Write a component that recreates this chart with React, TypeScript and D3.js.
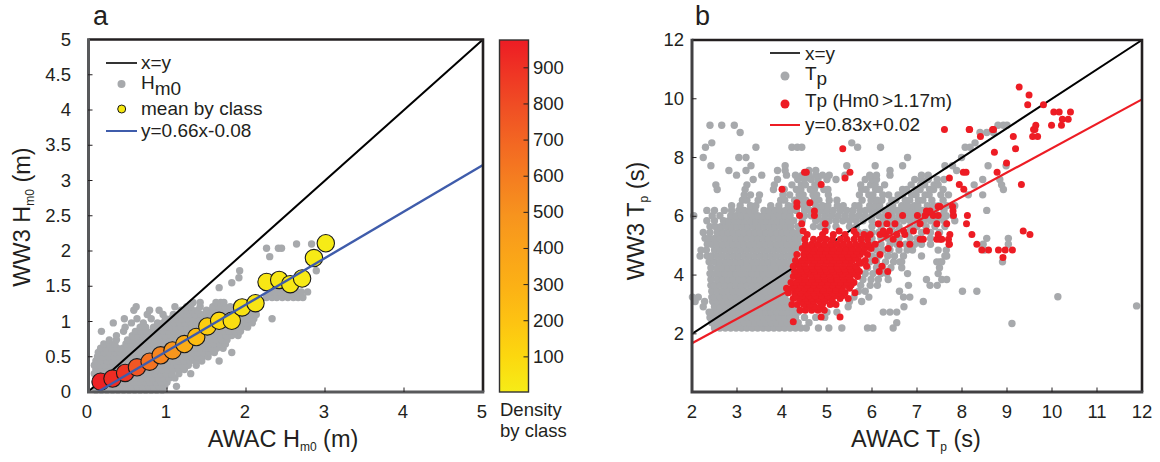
import React from "react";
import * as d3 from "d3";

const FONT = "'Liberation Sans', Arial, sans-serif";
const INK = "#231f20";
const GRAY = "#a7a9ac";
const RED = "#ed1c24";
const BLUE = "#3f5cab";

const ticksA = [0, 1, 2, 3, 4, 5];
const ticksAY = [0, 0.5, 1, 1.5, 2, 2.5, 3, 3.5, 4, 4.5, 5];
const ticksBX = [2, 3, 4, 5, 6, 7, 8, 9, 10, 11, 12];
const ticksBY = [2, 4, 6, 8, 10, 12];
const ticksDensity = [100, 200, 300, 400, 500, 600, 700, 800, 900];

const meanX = [0.16, 0.31, 0.47, 0.62, 0.78, 0.92, 1.07, 1.22, 1.37, 1.51, 1.66, 1.82, 1.95, 2.12, 2.26, 2.42, 2.56, 2.71, 2.86, 3.01];
const meanY = [0.146, 0.19, 0.27, 0.35, 0.43, 0.52, 0.59, 0.68, 0.78, 0.93, 1.01, 1.01, 1.2, 1.26, 1.56, 1.59, 1.53, 1.61, 1.9, 2.11];
const meanDensity = [960, 920, 880, 760, 640, 560, 480, 330, 230, 150, 100, 70, 50, 40, 30, 25, 20, 15, 12, 10];

const densityStops = [3, 100, 250, 500, 750, 977];
const densityColors = ["#f6ec17", "#fcd80f", "#fdb813", "#f7931e", "#f15a24", "#ed1c24"];

// y value, then the x values seen on that row
const grayRowsA: [number, number[]][] = [
  [0.03, [0.1, 0.17, 0.24, 0.31, 0.38, 0.45, 0.52, 0.59, 0.66, 0.73, 0.8, 0.87, 0.94]],
  [0.08, [0.13, 0.2, 0.27, 0.34, 0.41, 0.48, 0.55, 0.62, 0.69, 0.76, 0.83, 0.9, 0.97, 1.12]],
  [0.14, [0.09, 0.16, 0.23, 0.3, 0.37, 0.44, 0.51, 0.58, 0.65, 0.72, 0.79, 0.86, 0.93, 1.0]],
  [0.2, [0.12, 0.19, 0.26, 0.33, 0.4, 0.47, 0.54, 0.61, 0.68, 0.75, 0.82, 0.89, 0.96, 1.03, 1.1]],
  [0.26, [0.08, 0.15, 0.22, 0.29, 0.36, 0.43, 0.5, 0.57, 0.64, 0.71, 0.78, 0.85, 0.92, 0.99, 1.06, 1.15, 1.3]],
  [0.32, [0.1, 0.17, 0.24, 0.31, 0.38, 0.45, 0.52, 0.59, 0.66, 0.73, 0.8, 0.87, 0.94, 1.01, 1.08, 1.15, 1.22]],
  [0.38, [0.08, 0.15, 0.22, 0.29, 0.36, 0.43, 0.5, 0.57, 0.64, 0.71, 0.78, 0.85, 0.92, 0.99, 1.06, 1.13, 1.2, 1.27, 1.37]],
  [0.44, [0.1, 0.17, 0.24, 0.31, 0.38, 0.45, 0.52, 0.59, 0.66, 0.73, 0.8, 0.87, 0.94, 1.01, 1.08, 1.15, 1.22, 1.29, 1.36, 1.44, 1.66]],
  [0.5, [0.12, 0.19, 0.26, 0.33, 0.4, 0.47, 0.54, 0.61, 0.68, 0.75, 0.82, 0.89, 0.96, 1.03, 1.1, 1.17, 1.24, 1.31, 1.38, 1.45, 1.52]],
  [0.56, [0.13, 0.2, 0.27, 0.34, 0.41, 0.48, 0.55, 0.62, 0.69, 0.76, 0.83, 0.9, 0.97, 1.04, 1.11, 1.18, 1.25, 1.32, 1.39, 1.46, 1.53, 1.6, 1.82]],
  [0.62, [0.16, 0.23, 0.3, 0.37, 0.44, 0.51, 0.58, 0.65, 0.72, 0.79, 0.86, 0.93, 1.0, 1.07, 1.14, 1.21, 1.28, 1.35, 1.42, 1.49, 1.56, 1.63, 1.71]],
  [0.68, [0.2, 0.27, 0.34, 0.48, 0.55, 0.62, 0.69, 0.76, 0.83, 0.9, 0.97, 1.04, 1.11, 1.18, 1.25, 1.32, 1.39, 1.46, 1.53, 1.6, 1.67, 1.74]],
  [0.74, [0.27, 0.36, 0.5, 0.57, 0.64, 0.71, 0.78, 0.85, 0.92, 0.99, 1.06, 1.13, 1.2, 1.27, 1.34, 1.41, 1.48, 1.55, 1.62, 1.69, 1.76]],
  [0.8, [0.36, 0.56, 0.63, 0.7, 0.77, 0.84, 0.91, 0.98, 1.05, 1.12, 1.19, 1.26, 1.33, 1.4, 1.47, 1.54, 1.61, 1.68, 1.75, 1.82, 1.9]],
  [0.86, [0.17, 0.45, 0.6, 0.67, 0.74, 0.81, 0.88, 0.95, 1.02, 1.09, 1.16, 1.23, 1.3, 1.37, 1.44, 1.51, 1.58, 1.65, 1.72, 1.79, 1.86, 1.93]],
  [0.92, [0.47, 0.66, 0.73, 0.83, 0.9, 0.97, 1.04, 1.11, 1.18, 1.25, 1.32, 1.39, 1.46, 1.53, 1.6, 1.67, 1.74, 1.81, 1.88, 1.95, 2.02]],
  [0.98, [0.32, 0.55, 0.7, 0.88, 0.95, 1.02, 1.09, 1.16, 1.23, 1.3, 1.37, 1.44, 1.51, 1.58, 1.65, 1.72, 1.79, 1.86, 1.93, 2.0, 2.08]],
  [1.04, [0.46, 0.62, 0.8, 0.98, 1.05, 1.12, 1.19, 1.26, 1.33, 1.4, 1.47, 1.54, 1.61, 1.68, 1.75, 1.82, 1.89, 1.96, 2.03, 2.1, 2.33]],
  [1.1, [0.75, 0.95, 1.08, 1.15, 1.22, 1.29, 1.36, 1.43, 1.5, 1.57, 1.64, 1.71, 1.78, 1.85, 1.92, 1.99, 2.06, 2.13]],
  [1.16, [0.58, 0.78, 0.9, 1.18, 1.25, 1.32, 1.39, 1.5, 1.57, 1.64, 1.71, 1.78, 1.85, 1.92, 1.99, 2.06]],
  [1.21, [0.61, 1.1, 1.25, 1.3, 1.42, 1.58, 1.66, 1.73, 1.8, 1.95]],
  [1.27, [1.33, 1.42, 1.62, 1.68, 1.72, 1.96]],
  [1.34, [2.26, 2.33, 2.39, 2.46, 2.53, 2.6, 2.66, 2.72]],
  [1.42, [2.3, 2.37, 2.44, 2.51, 2.58, 2.65, 2.7, 2.78]],
  [1.48, [1.66, 2.24, 2.34, 2.42, 2.5, 2.58]],
  [1.55, [1.82, 2.3, 2.72]],
  [1.62, [1.91, 2.25]],
  [1.72, [1.92, 2.89]],
  [1.92, [2.3]],
  [2.04, [2.26, 2.41, 2.45]],
  [2.1, [2.64, 2.83]],
];

const grayRowsB: [number, number[]][] = [
  [2.2, [2.5, 2.62, 2.74, 2.86, 2.98, 3.1, 3.22, 3.34, 3.46, 3.58, 3.7, 3.82, 3.94, 4.06, 4.18, 4.3, 4.42, 4.54, 4.81, 5.04, 5.33, 5.9, 6.02, 6.47]],
  [2.38, [2.44, 2.56, 2.68, 2.8, 2.92, 3.04, 3.16, 3.28, 3.4, 3.52, 3.64, 3.76, 3.88, 4.0, 4.12, 4.24, 4.36, 4.6, 6.55]],
  [2.56, [2.4, 2.5, 2.62, 2.74, 2.86, 2.98, 3.1, 3.22, 3.34, 3.46, 3.58, 3.7, 3.82, 3.94, 4.06, 4.18, 4.3, 4.5, 4.75, 4.95]],
  [2.74, [2.38, 2.44, 2.56, 2.68, 2.8, 2.92, 3.04, 3.16, 3.28, 3.4, 3.52, 3.64, 3.76, 3.88, 4.0, 4.12, 4.24, 4.36, 5.0, 5.22, 6.25, 6.4, 6.55]],
  [2.92, [2.25, 2.5, 2.62, 2.74, 2.86, 2.98, 3.1, 3.22, 3.34, 3.46, 3.58, 3.7, 3.82, 3.94, 4.06, 4.18, 4.3, 5.47, 6.71]],
  [3.1, [2.07, 2.28, 2.46, 2.56, 2.68, 2.8, 2.92, 3.04, 3.16, 3.28, 3.4, 3.52, 3.64, 3.76, 3.88, 4.0, 4.12, 5.5, 5.77, 7.14]],
  [3.25, [2.01, 2.14, 2.44, 2.5, 2.62, 2.74, 2.86, 2.98, 3.1, 3.22, 3.34, 3.46, 3.58, 3.7, 3.82, 3.94, 4.06, 5.6, 5.93, 6.7, 6.84]],
  [3.45, [2.44, 2.56, 2.68, 2.8, 2.92, 3.04, 3.16, 3.28, 3.4, 3.52, 3.64, 3.76, 3.88, 4.0, 4.12, 5.7, 5.85, 8.01, 6.61, 8.33]],
  [3.65, [2.42, 2.5, 2.62, 2.74, 2.86, 2.98, 3.1, 3.22, 3.34, 3.46, 3.58, 3.7, 3.82, 3.94, 4.06, 5.75, 5.96, 6.12, 6.81, 7.29, 7.45]],
  [3.85, [2.42, 2.56, 2.68, 2.8, 2.92, 3.04, 3.16, 3.28, 3.4, 3.52, 3.64, 3.76, 3.88, 4.0, 4.12, 5.8, 5.98, 6.14, 6.36, 7.21, 7.55, 7.66]],
  [4.05, [2.4, 2.5, 2.62, 2.74, 2.86, 2.98, 3.1, 3.22, 3.34, 3.46, 3.58, 3.7, 3.82, 3.94, 4.06, 4.18, 5.85, 6.02, 6.2, 6.33, 6.79, 7.47]],
  [4.25, [2.42, 2.56, 2.68, 2.8, 2.92, 3.04, 3.16, 3.28, 3.4, 3.52, 3.64, 3.76, 3.88, 4.0, 4.12, 5.9, 6.1, 6.24, 6.42, 6.66, 7.5]],
  [4.45, [2.38, 2.5, 2.62, 2.74, 2.86, 2.98, 3.1, 3.22, 3.34, 3.46, 3.58, 3.7, 3.82, 3.94, 4.06, 4.18, 5.95, 6.1, 6.3, 6.48, 6.62, 7.44, 7.51, 8.9, 6.66, 7.55]],
  [4.65, [2.18, 2.34, 2.44, 2.56, 2.68, 2.8, 2.92, 3.04, 3.16, 3.28, 3.4, 3.52, 3.64, 3.76, 3.88, 4.0, 4.12, 4.24, 6.0, 6.15, 6.35, 6.5, 6.7, 7.1, 7.62, 7.66]],
  [4.85, [2.2, 2.32, 2.5, 2.62, 2.74, 2.86, 2.98, 3.1, 3.22, 3.34, 3.46, 3.58, 3.7, 3.82, 3.94, 4.06, 4.18, 4.3, 6.1, 6.25, 6.4, 6.6, 6.78, 6.9, 7.47, 7.65, 8.5]],
  [5.05, [2.34, 2.44, 2.56, 2.68, 2.8, 2.92, 3.04, 3.16, 3.28, 3.4, 3.52, 3.64, 3.76, 3.88, 4.0, 4.12, 4.24, 4.36, 4.7, 6.05, 6.2, 6.4, 6.55, 6.75, 6.95, 7.1, 7.3, 8.47, 9.03]],
  [5.25, [2.29, 2.38, 2.5, 2.62, 2.74, 2.86, 2.98, 3.1, 3.22, 3.34, 3.46, 3.58, 3.7, 3.82, 3.94, 4.06, 4.18, 4.3, 4.42, 5.85, 6.0, 6.2, 6.35, 6.6, 6.85, 7.0, 7.3, 8.55, 9.03]],
  [5.45, [2.25, 2.4, 2.56, 2.68, 2.8, 2.92, 3.04, 3.16, 3.28, 3.4, 3.52, 3.64, 3.76, 3.88, 4.0, 4.12, 4.24, 4.36, 5.7, 5.85, 6.0, 6.15, 6.4, 6.55, 6.82, 7.1, 7.3, 7.5]],
  [5.65, [2.4, 2.52, 2.64, 2.76, 2.88, 3.0, 3.12, 3.24, 3.36, 3.48, 3.6, 3.72, 3.84, 3.96, 4.08, 4.2, 4.35, 4.7, 4.85, 5.0, 5.2, 5.5, 5.65, 6.0, 6.2, 6.45, 6.6, 6.85, 7.0, 7.2, 7.4, 7.62]],
  [5.85, [2.33, 2.5, 2.7, 2.82, 2.94, 3.06, 3.18, 3.3, 3.42, 3.54, 3.66, 3.78, 3.9, 4.02, 4.14, 4.26, 4.45, 4.75, 4.9, 5.05, 5.2, 5.35, 5.5, 5.65, 5.8, 6.0, 6.25, 6.4, 6.55, 6.7, 6.85, 7.0, 7.15, 7.3, 7.45, 7.6, 7.84]],
  [6.02, [2.04, 2.45, 2.62, 2.86, 2.98, 3.1, 3.22, 3.34, 3.46, 3.58, 3.7, 3.82, 3.94, 4.06, 4.18, 4.5, 4.65, 4.8, 4.95, 5.1, 5.25, 5.4, 5.55, 5.7, 5.85, 6.0, 6.15, 6.3, 6.45, 6.6, 6.75, 6.9, 7.05, 7.2, 7.35, 7.5, 7.65, 7.8]],
  [6.2, [2.33, 2.5, 2.72, 2.88, 3.04, 3.16, 3.28, 3.4, 3.6, 3.72, 3.84, 3.96, 4.08, 4.2, 4.32, 4.5, 4.62, 4.74, 4.86, 5.0, 5.14, 5.3, 5.44, 5.58, 5.74, 5.86, 6.0, 6.14, 6.28, 6.42, 6.56, 6.7, 6.84, 6.98, 7.12, 7.26, 7.4, 7.6, 8.55]],
  [6.36, [2.88, 3.07, 3.3, 3.42, 3.75, 3.93, 4.14, 4.27, 4.48, 4.56, 4.75, 4.9, 5.02, 5.23, 5.36, 5.62, 5.71, 5.95, 6.08, 6.17, 6.39, 6.46, 6.66, 6.79, 6.94, 7.02, 7.23, 7.37, 7.48, 7.66, 7.84]],
  [6.55, [3.12, 3.22, 3.47, 3.97, 4.06, 4.28, 4.43, 4.53, 4.72, 4.82, 5.05, 5.22, 5.78, 5.98, 6.11, 6.22, 6.44, 6.53, 6.74, 6.84, 7.03, 7.13, 7.33, 7.58]],
  [6.73, [3.16, 3.3, 3.5, 4.02, 4.17, 4.38, 4.47, 4.69, 4.77, 5.03, 5.72, 5.93, 6.02, 6.24, 6.37, 6.58, 6.68, 6.88, 6.98, 7.18, 7.27, 7.53, 7.7, 8.14, 8.46]],
  [6.91, [2.56, 3.18, 3.81, 4.05, 4.32, 4.42, 4.63, 4.72, 4.93, 5.02, 5.77, 5.87, 6.08, 6.17, 6.68, 6.77, 6.98, 7.07, 7.28, 7.37, 7.58, 8.92]],
  [7.07, [2.53, 3.22, 3.83, 4.22, 4.43, 4.52, 4.73, 4.82, 5.75, 5.97, 6.07, 6.28, 6.87, 7.08, 7.17, 7.38, 7.47, 8.27, 8.88]],
  [7.25, [3.36, 3.9, 4.35, 4.5, 4.65, 4.8, 5.0, 5.2, 5.85, 6.0, 6.1, 6.95, 7.1, 7.25, 7.45, 7.6, 8.84, 8.46]],
  [7.4, [2.99, 3.55, 4.1, 4.3, 4.45, 4.6, 4.75, 4.9, 5.05, 5.4, 5.95, 6.1, 6.4, 7.1, 7.25]],
  [7.56, [2.82, 3.2, 3.9, 4.07, 4.6, 4.75, 6.4, 7.88]],
  [7.72, [2.42, 3.31, 4.07, 5.44, 6.07, 6.68, 7.62, 7.79, 8.58, 8.98]],
  [8.0, [2.25, 3.04, 3.2, 6.79, 7.99]],
  [8.35, [2.3, 3.42, 4.22, 4.34, 4.44, 5.68, 6.19, 8.07, 8.18]],
  [8.5, [2.44, 5.55, 8.29]],
  [8.85, [3.07, 8.4, 8.55, 8.7]],
  [9.1, [2.4, 2.66, 2.94, 8.8, 8.92, 9.0]],
  [3.26, [10.13]],
  [2.95, [11.88]],
  [2.35, [9.11]],
];

const redRowsB: [number, number[]][] = [
  [2.41, [4.25]],
  [2.57, [4.87, 5.29]],
  [2.8, [4.4, 4.52, 4.66, 4.8, 4.94]],
  [2.93, [4.56, 4.72, 4.85]],
  [3.0, [4.22, 4.34, 4.48, 4.62, 4.9, 5.07, 5.2]],
  [3.12, [4.44, 4.58, 4.7, 4.82, 4.96, 5.12]],
  [3.2, [4.25, 4.38, 4.52, 4.66, 4.8, 4.94, 5.08, 5.29, 5.47]],
  [3.3, [4.3, 4.46, 4.6, 4.74, 4.88, 5.02, 5.18, 5.34]],
  [3.4, [4.14, 4.28, 4.42, 4.56, 4.7, 4.84, 4.98, 5.12, 5.26, 5.4, 5.62]],
  [3.48, [4.33, 4.47, 4.63, 4.77, 4.91, 5.05, 5.19, 5.33]],
  [3.55, [4.1, 4.22, 4.36, 4.5, 4.64, 4.78, 4.92, 5.06, 5.2, 5.34, 5.5]],
  [3.66, [4.27, 4.42, 4.56, 4.7, 4.84, 4.98, 5.12, 5.26, 5.4, 5.54]],
  [3.75, [4.2, 4.32, 4.46, 4.6, 4.74, 4.88, 5.02, 5.16, 5.3, 5.44, 5.6]],
  [3.86, [4.37, 4.52, 4.67, 4.81, 4.95, 5.09, 5.23, 5.37, 5.52]],
  [3.95, [4.25, 4.38, 4.52, 4.66, 4.8, 4.94, 5.08, 5.22, 5.36, 5.5, 5.68]],
  [4.04, [4.35, 4.5, 4.64, 4.78, 4.92, 5.06, 5.2, 5.34, 5.48, 5.62]],
  [4.12, [4.28, 4.44, 4.58, 4.72, 4.86, 5.0, 5.14, 5.28, 5.42, 5.56, 5.72, 6.16, 6.35]],
  [4.21, [4.4, 4.55, 4.69, 4.83, 4.97, 5.11, 5.25, 5.39, 5.53, 5.67]],
  [4.3, [4.25, 4.38, 4.52, 4.66, 4.8, 4.94, 5.08, 5.22, 5.36, 5.5, 5.64, 5.88, 6.22]],
  [4.4, [4.38, 4.52, 4.67, 4.81, 4.95, 5.09, 5.23, 5.37, 5.51, 5.75]],
  [4.5, [4.3, 4.44, 4.58, 4.72, 4.86, 5.0, 5.14, 5.28, 5.42, 5.56, 5.7, 5.85, 6.07]],
  [4.6, [4.5, 4.65, 4.79, 4.93, 5.07, 5.21, 5.35, 5.49, 5.63]],
  [4.7, [4.33, 4.48, 4.62, 4.76, 4.9, 5.04, 5.18, 5.32, 5.46, 5.6, 5.74, 5.9, 6.18]],
  [4.8, [4.52, 4.69, 4.83, 4.97, 5.11, 5.25, 5.39, 5.53, 5.67, 5.8]],
  [4.9, [4.45, 4.58, 4.72, 4.86, 5.0, 5.14, 5.28, 5.42, 5.56, 5.7, 5.84, 5.98, 6.36]],
  [5.05, [4.52, 4.66, 4.8, 4.94, 5.08, 5.22, 5.36, 5.5, 5.64, 5.78, 5.92, 6.07, 6.62, 6.84, 7.72, 7.71, 8.33]],
  [5.22, [4.51, 4.7, 4.84, 4.98, 5.12, 5.3, 5.44, 5.6, 5.75, 5.9, 6.47, 7.07, 7.14, 7.44, 7.55, 7.7, 7.51]],
  [5.38, [4.56, 4.9, 5.14, 5.4, 5.65, 5.82, 5.96, 6.18, 6.3, 6.55, 6.73, 7.47, 7.73, 8.22, 9.51]],
  [5.5, [4.47, 4.96, 5.27, 5.6, 6.25, 6.39, 6.7, 6.92, 7.21, 9.36]],
  [5.75, [4.44, 4.96, 6.14, 6.33, 6.51, 7.07, 7.44, 7.66, 8.1]],
  [6.03, [4.39, 4.72, 6.36, 6.68, 7.01, 7.18, 7.36, 7.47, 7.81, 8.12]],
  [6.18, [4.72, 7.21, 7.29, 7.8]],
  [6.33, [7.47, 7.51, 7.79, 4.33]],
  [6.46, [4.33, 4.62]],
  [6.92, [4.0, 8.04]],
  [7.08, [4.87, 7.94, 9.32]],
  [7.3, [5.4, 7.72]],
  [7.5, [4.5, 4.54, 5.51, 8.03, 8.09, 8.78]],
  [7.81, [8.99]],
  [8.18, [8.72]],
  [8.3, [5.35, 9.19]],
  [8.72, [8.41, 9.14, 9.57, 9.68]],
  [8.95, [7.61, 8.17, 8.16, 9.59, 9.62, 8.7, 8.68]],
  [9.1, [9.64, 9.99, 10.21]],
  [9.3, [10.36, 10.23]],
  [9.55, [10.04, 10.16, 10.41]],
  [9.8, [9.46, 9.81]],
  [10.13, [9.49]],
  [10.4, [9.27]],
  [4.85, [8.44, 8.59, 8.81, 8.96, 9.12]],
  [4.6, [8.91]],
];

const W = 1160;
const H = 462;

const xA = d3.scaleLinear().domain([0, 5]).range([88, 483]);
const yA = d3.scaleLinear().domain([0, 5]).range([392, 39.5]);
const xB = d3.scaleLinear().domain([2, 12]).range([692, 1142]);
const yB = d3.scaleLinear().domain([0, 12]).range([392.6, 40]);
const yD = d3.scaleLinear().domain([0, 977]).range([393, 40]);
const densityColor = d3.scaleLinear<string>().domain(densityStops).range(densityColors);

const flatten = (rows: [number, number[]][]) => rows.flatMap(([y, xs]) => xs.map((x) => [x, y] as [number, number]));
const line = d3.line<[number, number]>();

function Tick({ x, y, text, anchor = "middle" }: { x: number; y: number; text: string | number; anchor?: string }) {
  return (
    <text x={x} y={y} fontSize={18.5} textAnchor={anchor} fill={INK}>
      {text}
    </text>
  );
}

function LabelSub({ x, y, pre, sub, post, rotate, size = 23.5, subSize = 12 }: any) {
  return (
    <text
      x={x}
      y={y}
      fontSize={size}
      fill={INK}
      textAnchor="middle"
      transform={rotate ? `rotate(-90 ${x} ${y})` : undefined}
    >
      {pre}
      <tspan fontSize={subSize} dy={4}>{sub}</tspan>
      <tspan dy={-4}>{post}</tspan>
    </text>
  );
}

function Frame({ l, r, t, b, soft }: { l: number; r: number; t: number; b: number; soft: string }) {
  return (
    <g fill="none">
      <path d={`M${l},${t}H${r}V${b}`} stroke={INK} strokeWidth={2.6} />
      <path d={`M${l},${t - 1.3}V${b}H${r + 1.3}`} stroke={soft} strokeWidth={3} />
    </g>
  );
}

export default function App() {
  const grayA = flatten(grayRowsA);
  const grayB = flatten(grayRowsB);
  const redB = flatten(redRowsB);
  const gradStops = d3.range(0, 11).map((i) => i / 10);
  return (
    <svg
      width={W}
      height={H}
      viewBox={`0 0 ${W} ${H}`}
      style={{ position: "absolute", left: 0, top: 0, display: "block", fontFamily: FONT, background: "#fff" }}
    >
      <defs>
        <linearGradient id="densityGrad" x1="0" y1="1" x2="0" y2="0">
          {gradStops.map((t) => (
            <stop key={t} offset={t} stopColor={densityColor(3 + t * 974)} />
          ))}
        </linearGradient>
      </defs>

      {/* Panel a */}
      <text x={93} y={25} fontSize={27} fill={INK}>a</text>
      {grayA.map(([x, y], i) => (
        <circle key={i} cx={xA(x)} cy={yA(y)} r={3.7} fill={GRAY} />
      ))}
      <path d={line([[xA(0), yA(0)], [xA(5), yA(5)]]) ?? ""} stroke="#000" strokeWidth={2} fill="none" />
      {meanX.map((x, i) => (
        <circle key={i} cx={xA(x)} cy={yA(meanY[i])} r={8.7} fill={densityColor(meanDensity[i])} stroke="#1a1a1a" strokeWidth={1.1} />
      ))}
      <path d={line([[xA(0.08 / 0.66), yA(0)], [xA(5), yA(0.66 * 5 - 0.08)]]) ?? ""} stroke={BLUE} strokeWidth={2.4} fill="none" />
      <Frame l={88.5} r={483} t={39.5} b={392} soft="#58595b" />
      {ticksA.slice(1, 5).map((v) => (
        <line key={v} x1={xA(v)} x2={xA(v)} y1={392} y2={387.5} stroke={INK} strokeWidth={1} />
      ))}
      {ticksAY.slice(1, 10).map((v) => (
        <line key={v} x1={88} x2={92.5} y1={yA(v)} y2={yA(v)} stroke={INK} strokeWidth={1} />
      ))}
      {ticksA.map((v) => <Tick key={v} x={xA(v) - 1} y={418} text={v} />)}
      {ticksAY.map((v) => <Tick key={v} x={71} y={yA(v) + 6} text={v} anchor="end" />)}
      <LabelSub x={283} y={447} pre="AWAC H" sub="m0" post=" (m)" />
      <LabelSub x={30} y={217} pre="WW3 H" sub="m0" post=" (m)" rotate />

      {/* Legend a */}
      <line x1={106} x2={137} y1={63} y2={63} stroke="#000" strokeWidth={1.6} />
      <text x={141} y={69} fontSize={19} fill={INK}>x=y</text>
      <circle cx={121.5} cy={84} r={4} fill={GRAY} />
      <text x={141} y={89} fontSize={19} fill={INK}>H<tspan dy={6}>m0</tspan></text>
      <circle cx={121.7} cy={109} r={4} fill="#f6e80f" stroke="#1a1a1a" strokeWidth={1} />
      <text x={141} y={115} fontSize={19} fill={INK}>mean by class</text>
      <line x1={106} x2={137} y1={131} y2={131} stroke={BLUE} strokeWidth={2} />
      <text x={141} y={137} fontSize={19} fill={INK}>y=0.66x-0.08</text>

      {/* Colour bar */}
      <rect x={499.5} y={40} width={29} height={352} fill="url(#densityGrad)" stroke="#333" strokeWidth={1.4} />
      {ticksDensity.map((v) => (
        <g key={v}>
          <line x1={523.5} x2={528} y1={yD(v)} y2={yD(v)} stroke={INK} strokeWidth={1} />
          <Tick x={533} y={yD(v) + 6} text={v} anchor="start" />
        </g>
      ))}
      <text x={500} y={416} fontSize={18.5} fill={INK}>Density</text>
      <text x={500} y={437} fontSize={18.5} fill={INK}>by class</text>

      {/* Panel b */}
      <text x={695} y={25} fontSize={27} fill={INK}>b</text>
      {grayB.map(([x, y], i) => (
        <circle key={i} cx={xB(x)} cy={yB(y)} r={3.7} fill={GRAY} />
      ))}
      <path d={line([[xB(2), yB(2)], [xB(12), yB(12)]]) ?? ""} stroke="#000" strokeWidth={2} fill="none" />
      <path d={line([[xB(2), yB(0.83 * 2 + 0.02)], [xB(12), yB(0.83 * 12 + 0.02)]]) ?? ""} stroke={RED} strokeWidth={2.2} fill="none" />
      {redB.map(([x, y], i) => (
        <circle key={i} cx={xB(x)} cy={yB(y)} r={3.5} fill={RED} />
      ))}
      <Frame l={692} r={1142} t={40} b={392} soft="#414042" />
      {ticksBX.slice(1, 10).map((v) => (
        <line key={v} x1={xB(v)} x2={xB(v)} y1={392} y2={387.5} stroke={INK} strokeWidth={1} />
      ))}
      {ticksBY.slice(0, 5).map((v) => (
        <line key={v} x1={692} x2={696.5} y1={yB(v)} y2={yB(v)} stroke={INK} strokeWidth={1} />
      ))}
      {ticksBX.map((v) => <Tick key={v} x={xB(v)} y={418} text={v} />)}
      {ticksBY.map((v) => <Tick key={v} x={684} y={yB(v) + 6} text={v} anchor="end" />)}
      <LabelSub x={916} y={447} pre="AWAC T" sub="p" post=" (s)" />
      <LabelSub x={644} y={221} pre="WW3 T" sub="p" post=" (s)" rotate />

      {/* Legend b */}
      <line x1={770} x2={800} y1={53} y2={53} stroke="#000" strokeWidth={1.6} />
      <text x={805} y={60} fontSize={19} fill={INK}>x=y</text>
      <circle cx={785} cy={76} r={4.5} fill={GRAY} />
      <text x={805} y={80} fontSize={19} fill={INK}>T<tspan dy={5}>p</tspan></text>
      <circle cx={785} cy={104} r={4.5} fill={RED} />
      <text x={805} y={107} fontSize={19} fill={INK}>Tp (Hm0<tspan dx={3}>&gt;1.17m)</tspan></text>
      <line x1={770} x2={800} y1={125} y2={125} stroke={RED} strokeWidth={2} />
      <text x={805} y={131} fontSize={19} fill={INK}>y=0.83x+0.02</text>
    </svg>
  );
}
